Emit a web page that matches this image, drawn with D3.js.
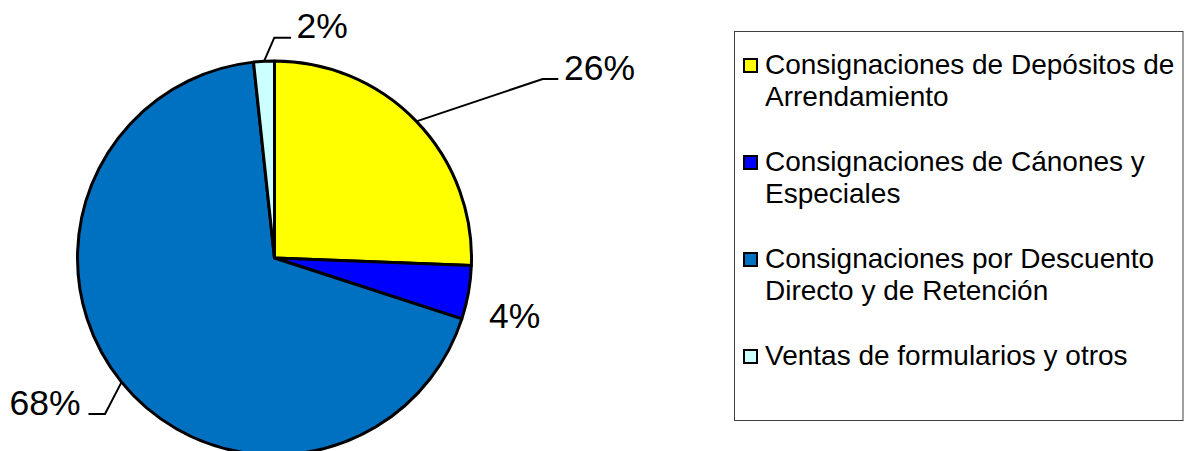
<!DOCTYPE html>
<html>
<head>
<meta charset="utf-8">
<script src="https://cdn.jsdelivr.net/npm/d3@7"></script>
<style>
  html, body { margin: 0; padding: 0; background: #fff; }
  svg { display: block; }
  text { font-family: "Liberation Sans", Arial, sans-serif; fill: #000; }
</style>
</head>
<body>
<svg id="chart" width="1188" height="451"></svg>
<script>
// ---- data ----
const categories = [
  "Consignaciones de Depósitos de Arrendamiento",
  "Consignaciones de Cánones y Especiales",
  "Consignaciones por Descuento Directo y de Retención",
  "Ventas de formularios y otros"
];
const legendLines = [
  ["Consignaciones de Depósitos de", "Arrendamiento"],
  ["Consignaciones de Cánones y", "Especiales"],
  ["Consignaciones por Descuento", "Directo y de Retención"],
  ["Ventas de formularios y otros"]
];
const values = [25.6, 4.4, 68.3, 1.7];
const colors = ["#FFFF00", "#0000FF", "#0070C0", "#CCFFFF"];

// ---- layout (not data) ----
const cx = 274.5, cy = 258, R = 197;
// label placement per slice: elbow point, line end, text anchor point
const labelLayout = [
  { elbow: [542.7, 79], end: [558.3, 79], text: [564, 80], anchor: "start", line: true },
  { elbow: null, end: null, text: [489, 328], anchor: "start", line: false },
  { elbow: [105, 414], end: [88.5, 414], text: [80.5, 415], anchor: "end", line: true },
  { elbow: [274.3, 37.7], end: [291, 37.7], text: [296.5, 38], anchor: "start", line: true }
];

const svg = d3.select("#chart");
const total = d3.sum(values);

const pie = d3.pie().sort(null).value(d => d);
const arcs = pie(values);
const arc = d3.arc().innerRadius(0).outerRadius(R);

const g = svg.append("g").attr("transform", `translate(${cx},${cy})`);
g.selectAll("path.slice")
  .data(arcs)
  .join("path")
  .attr("class", "slice")
  .attr("d", arc)
  .attr("fill", (d, i) => colors[i])
  .attr("stroke", "#000")
  .attr("stroke-width", 3)
  .attr("stroke-linejoin", "round");

// labels with leader lines
arcs.forEach((d, i) => {
  const L = labelLayout[i];
  const mid = (d.startAngle + d.endAngle) / 2;
  const sx = cx + R * Math.sin(mid), sy = cy - R * Math.cos(mid);
  if (L.line) {
    svg.append("polyline")
      .attr("points", [[sx, sy], L.elbow, L.end].map(p => p.join(",")).join(" "))
      .attr("fill", "none")
      .attr("stroke", "#000")
      .attr("stroke-width", 2);
  }
  svg.append("text")
    .attr("x", L.text[0])
    .attr("y", L.text[1])
    .attr("text-anchor", L.anchor)
    .attr("font-size", 35.5)
    .text(Math.round(d.value / total * 100) + "%");
});

// legend
svg.append("rect")
  .attr("x", 734.5).attr("y", 31.5)
  .attr("width", 448.5).attr("height", 389)
  .attr("fill", "#fff")
  .attr("stroke", "#404040")
  .attr("stroke-width", 1);

const legend = svg.append("g");
categories.forEach((c, i) => {
  const base = 74 + i * 97;
  legend.append("rect")
    .attr("x", 744).attr("y", base - 15)
    .attr("width", 13).attr("height", 13)
    .attr("fill", colors[i])
    .attr("stroke", "#000")
    .attr("stroke-width", 2);
  const t = legend.append("text")
    .attr("x", 765).attr("y", base)
    .attr("font-size", 28);
  legendLines[i].forEach((ln, j) => {
    t.append("tspan").attr("x", 765).attr("y", base + j * 32).text(ln);
  });
});
</script>
</body>
</html>
